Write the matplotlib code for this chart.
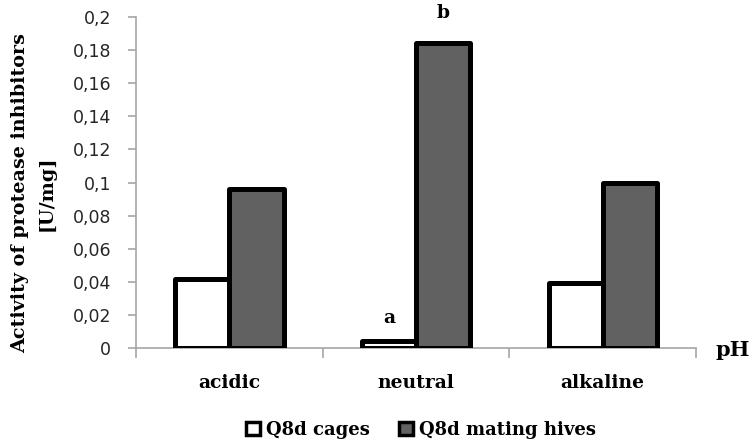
import numpy as np
import matplotlib.pyplot as plt
from matplotlib.patches import Patch

categories = ["acidic", "neutral", "alkaline"]
cages = [0.042, 0.004, 0.039]
mating_hives = [0.096, 0.184, 0.100]
series_names = ["Q8d cages", "Q8d mating hives"]
yticks = [0, 0.02, 0.04, 0.06, 0.08, 0.1, 0.12, 0.14, 0.16, 0.18, 0.2]
ytick_labels = ["0", "0,02", "0,04", "0,06", "0,08", "0,1", "0,12", "0,14", "0,16", "0,18", "0,2"]
# letter, category index, series, offset above bar (points)
letters = [("a", 1, "cages", 17), ("b", 1, "hives", 22)]

serif = "DejaVu Serif"
gray_fill = "#616161"
axis_gray = "#a6a6a6"

fig = plt.figure(figsize=(7.52, 4.43), dpi=100)
ax = fig.add_axes([0.181, 0.2144, 0.7445, 0.7472])

x = np.arange(len(categories))
w = 0.29
b1 = ax.bar(x - w / 2, cages, width=w, color="white", edgecolor="black",
            linewidth=3.6, zorder=3)
b2 = ax.bar(x + w / 2, mating_hives, width=w, color=gray_fill, edgecolor="black",
            linewidth=3.6, zorder=3)
for p in list(b1) + list(b2):
    p.set_joinstyle("round")

for txt, i, which, off in letters:
    if which == "cages":
        xx, yy = x[i] - w / 2, cages[i]
    else:
        xx, yy = x[i] + w / 2, mating_hives[i]
    ax.annotate(txt, (xx, yy), xytext=(0, off), textcoords="offset points",
                ha="center", va="center", fontsize=13.5, fontweight="bold",
                family=serif, annotation_clip=False)

ax.set_xlim(-0.5, 2.5)
ax.set_ylim(0, 0.2)
ax.set_yticks(yticks)
ax.set_yticklabels(ytick_labels, fontsize=12.5, color="#262626", family="DejaVu Sans")
ax.tick_params(axis="y", length=6, color=axis_gray, width=1.2, pad=12)

ax.set_xticks([-0.5, 0.5, 1.5, 2.5])
ax.set_xticklabels([])
ax.tick_params(axis="x", which="major", length=7, color=axis_gray, width=1.2)
ax.set_xticks(x, minor=True)
ax.set_xticklabels(categories, minor=True, fontsize=13.5, fontweight="bold", family=serif)
ax.tick_params(axis="x", which="minor", length=0, pad=19)

for s in ["top", "right"]:
    ax.spines[s].set_visible(False)
for s in ["left", "bottom"]:
    ax.spines[s].set_color(axis_gray)
    ax.spines[s].set_linewidth(1.2)

fig.text(0.0445, 0.564, "Activity of protease inhibitors\n[U/mg]", rotation=90,
         ha="center", va="center", fontsize=13.8, fontweight="bold", family=serif,
         linespacing=1.55)
fig.text(0.951, 0.21, "pH", ha="left", va="center", fontsize=15,
         fontweight="bold", family=serif)

handles = [Patch(facecolor="white", edgecolor="black", linewidth=2.5),
           Patch(facecolor=gray_fill, edgecolor="black", linewidth=2.5)]
fig.legend(handles, series_names, loc="center", bbox_to_anchor=(0.56, 0.029),
           ncol=2, frameon=False, handlelength=0.75, handleheight=0.75,
           handletextpad=0.35, columnspacing=1.6,
           prop={"family": serif, "weight": "bold", "size": 13})

fig.savefig("out.png", dpi=100)
